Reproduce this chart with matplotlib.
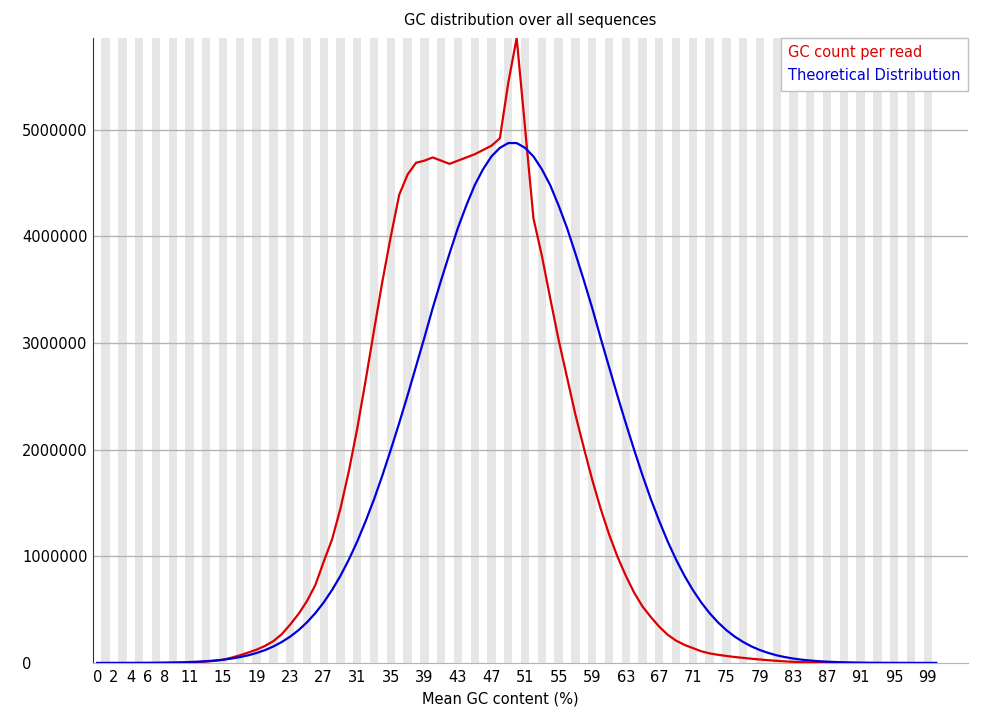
import numpy as np
import matplotlib
matplotlib.use('Agg')
import matplotlib.pyplot as plt

# GC bins 0..100, counts in millions of reads
gc_bins = list(range(101))
gc_count = [0.0, 0.0, 0.0, 0.0, 0.0, 0.0, 0.0, 0.001, 0.001, 0.001,
            0.002, 0.004, 0.008, 0.014, 0.02, 0.03, 0.05, 0.072, 0.098, 0.125,
            0.16, 0.205, 0.27, 0.36, 0.46, 0.58, 0.73, 0.95, 1.16, 1.45,
            1.8, 2.2, 2.65, 3.12, 3.58, 4.0, 4.39, 4.58, 4.69, 4.71,
            4.74, 4.71, 4.68, 4.71, 4.74, 4.77, 4.81, 4.85, 4.92, 5.44,
            5.86, 5.02, 4.17, 3.82, 3.42, 3.03, 2.68, 2.33, 2.02, 1.72,
            1.45, 1.21, 1.0, 0.82, 0.66, 0.53, 0.43, 0.34, 0.265, 0.21,
            0.17, 0.14, 0.11, 0.09, 0.077, 0.066, 0.056, 0.048, 0.04, 0.033,
            0.026, 0.02, 0.015, 0.011, 0.008, 0.005, 0.003, 0.002, 0.001, 0.001,
            0.001, 0.0, 0.0, 0.0, 0.0, 0.0, 0.0, 0.0, 0.0, 0.0, 0.0]
theoretical = [0.0003, 0.0003, 0.0004, 0.0005, 0.0007, 0.001, 0.0014, 0.002, 0.003, 0.0046,
               0.0064, 0.009, 0.0124, 0.017, 0.023, 0.031, 0.0415, 0.055, 0.072, 0.094,
               0.121, 0.155, 0.197, 0.247, 0.308, 0.381, 0.467, 0.568, 0.685, 0.818,
               0.97, 1.14, 1.33, 1.535, 1.76, 2.0, 2.25, 2.51, 2.78, 3.05,
               3.33, 3.59, 3.84, 4.08, 4.29, 4.48, 4.63, 4.75, 4.83, 4.875,
               4.875, 4.83, 4.75, 4.63, 4.48, 4.29, 4.08, 3.84, 3.59, 3.33,
               3.05, 2.78, 2.51, 2.25, 2.0, 1.76, 1.535, 1.33, 1.14, 0.97,
               0.818, 0.685, 0.568, 0.467, 0.381, 0.308, 0.247, 0.197, 0.155, 0.121,
               0.094, 0.072, 0.055, 0.0415, 0.031, 0.023, 0.017, 0.0124, 0.009, 0.0064,
               0.0046, 0.003, 0.002, 0.0014, 0.001, 0.0007, 0.0005, 0.0004, 0.0003, 0.0003, 0.0002]
xtick_bins = [0, 2, 4, 6, 8] + list(range(11, 100, 4))
ytick_vals = [0, 1000000, 2000000, 3000000, 4000000, 5000000]

red = '#dc0000'
blue = '#0000dc'

plt.rcParams['font.family'] = 'DejaVu Sans'
fig = plt.figure(figsize=(9.87, 7.23), dpi=100)
fig.subplots_adjust(left=93/987, right=968/987, bottom=60/723, top=685/723)
ax = fig.add_subplot(111)

y1 = np.array(gc_count) * 1e6
y2 = np.array(theoretical) * 1e6

# alternating stripes, one per bin
for i in gc_bins:
	if i % 2 != 0:
		ax.axvspan(i - 0.5, i + 0.5, color='#e6e6e6', lw=0, zorder=0)

for v in ytick_vals[1:]:
	ax.axhline(v, color='#b4b4b4', lw=1.0, zorder=1)

ax.plot(gc_bins, y1, '-', color=red, lw=1.6, label='GC count per read', zorder=3)
ax.plot(gc_bins, y2, '-', color=blue, lw=1.6, label='Theoretical Distribution', zorder=3)

ax.set_xlim(-0.5, 103.8)
ax.set_ylim(0, y1.max())
ax.set_xticks(xtick_bins)
ax.set_xticklabels([str(b) for b in xtick_bins])
ax.set_yticks(ytick_vals)
ax.set_yticklabels([str(v) for v in ytick_vals])
for lab in ax.get_yticklabels():
	lab.set_horizontalalignment('left')
ax.tick_params(axis='y', length=0, pad=51, labelsize=10.5)
ax.tick_params(axis='x', length=0, pad=5, labelsize=10.5)

ax.spines['top'].set_visible(False)
ax.spines['right'].set_visible(False)
ax.spines['left'].set_color('#333333')
ax.spines['bottom'].set_color('#b4b4b4')

ax.set_title('GC distribution over all sequences', fontsize=10.5, pad=9)
ax.set_xlabel('Mean GC content (%)', fontsize=10.5)
ax.xaxis.set_label_coords(0.465, -0.045)

leg = ax.legend(loc='upper right', borderaxespad=0., handlelength=0, handletextpad=0,
                fancybox=False, framealpha=1, edgecolor='#c0c0c0', fontsize=10.5,
                borderpad=0.5, labelspacing=0.55)
leg.get_frame().set_linewidth(1.0)
for h in leg.legend_handles:
	h.set_visible(False)
for t, c in zip(leg.get_texts(), [red, blue]):
	t.set_color(c)

fig.savefig('out.png', dpi=100)
